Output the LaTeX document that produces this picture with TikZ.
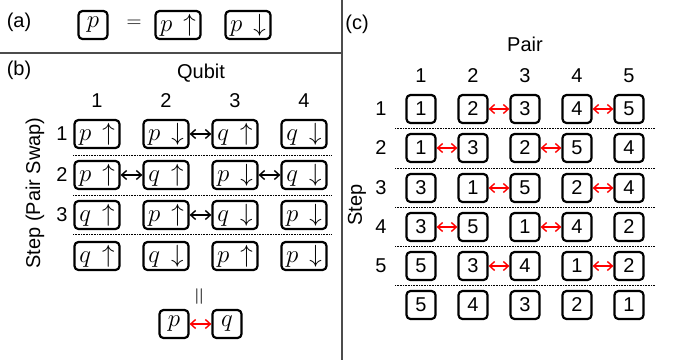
\documentclass[tikz,border=0pt]{standalone}
\usepackage{fontspec}
\setmainfont{Liberation Sans}
\usetikzlibrary{arrows.meta, positioning}

\begin{document}
\begin{tikzpicture}[
  x=1pt, y=-1pt,
  every node/.style = {font=\fontsize{20}{24}\selectfont},
  qbox/.style = {draw, line width=2.2pt, rounded corners=4pt, minimum width=45pt, minimum height=28pt, inner sep=0pt, font=\fontsize{24}{26}\selectfont},
  nbox/.style = {qbox, minimum width=29pt},
  cbox/.style = {nbox, font=\fontsize{20}{24}\selectfont},
  swap/.style = {line width=1.4pt, {Straight Barb[length=5pt,width=9pt]}-{Straight Barb[length=5pt,width=9pt]}},
  rswap/.style = {swap, red},
  sep/.style = {densely dotted, semithick},
  frame/.style = {line width=1.2pt, black!70}
]
  \useasboundingbox (0,0) rectangle (678,360);

  % frames
  \draw[frame] (0,53) -- (342,53);
  \draw[frame] (342,0) -- (342,360);

  % (a) one pair = two qubits
  \node (lbla) at (19,22) {(a)};
  \node[nbox] (pa) at (93,25) {$p$};
  \node (eq) at (134,24) {$=$};
  \node[qbox] (pup) at (178,25) {$p\,\uparrow$};
  \node[qbox] (pdn) at (248,25) {$p\,\downarrow$};

  % (b) qubit swaps
  \node (lblb) at (19,70) {(b)};
  \node (qubit) at (201,73) {Qubit};
  \node[rotate=90] (bstep) at (35,193) {Step (Pair Swap)};
  \foreach \c in {1,...,4}
    \node (bc\c) at ({97+69*(\c-1)},101) {\c};
  \foreach \r/\y/\row in {1/134/{p\,\uparrow,p\,\downarrow,q\,\uparrow,q\,\downarrow},
                          2/175/{p\,\uparrow,q\,\uparrow,p\,\downarrow,q\,\downarrow},
                          3/215/{q\,\uparrow,p\,\uparrow,q\,\downarrow,p\,\downarrow},
                          4/256/{q\,\uparrow,q\,\downarrow,p\,\uparrow,p\,\downarrow}}
    \foreach \t [count=\c] in \row
      \node[qbox] (b\r\c) at ({97+69*(\c-1)},\y) {$\t$};
  \foreach \r/\y in {1/134,2/175,3/215}
    \node (br\r) at (62,\y) {\r};
  \foreach \y in {155,195,234}
    \draw[sep] (73,\y) -- (332,\y);
  \draw[swap] (b12) -- (b13);
  \draw[swap] (b21) -- (b22);
  \draw[swap] (b23) -- (b24);
  \draw[swap] (b32) -- (b33);

  \node[rotate=90, font=\fontsize{24}{26}\selectfont] (veq) at (201,297) {$=$};
  \node[nbox] (bp) at (174,324) {$p$};
  \node[nbox] (bq) at (227,324) {$q$};
  \draw[rswap] (bp) -- (bq);

  % (c) pair swaps
  \node (lblc) at (357,24) {(c)};
  \node (pair) at (525,44) {Pair};
  \node[rotate=90] (cstep) at (357,205) {Step};
  \foreach \c in {1,...,5}
    \node (cc\c) at ({421+52*(\c-1)},76) {\c};
  \foreach \r/\y/\row in {1/109/{1,2,3,4,5},
                          2/148/{1,3,2,5,4},
                          3/188/{3,1,5,2,4},
                          4/227/{3,5,1,4,2},
                          5/266/{5,3,4,1,2},
                          6/305/{5,4,3,2,1}}
    \foreach \t [count=\c] in \row
      \node[cbox] (c\r\c) at ({421+52*(\c-1)},\y) {\t};
  \foreach \r/\y in {1/109,2/148,3/188,4/227,5/266}
    \node (cr\r) at (381,\y) {\r};
  \foreach \y in {128,168,207,246,285}
    \draw[sep] (395,\y) -- (655,\y);
  \foreach \r in {1,3,5} {
    \draw[rswap] (c\r2) -- (c\r3);
    \draw[rswap] (c\r4) -- (c\r5);
  }
  \foreach \r in {2,4} {
    \draw[rswap] (c\r1) -- (c\r2);
    \draw[rswap] (c\r3) -- (c\r4);
  }
\end{tikzpicture}
\end{document}
